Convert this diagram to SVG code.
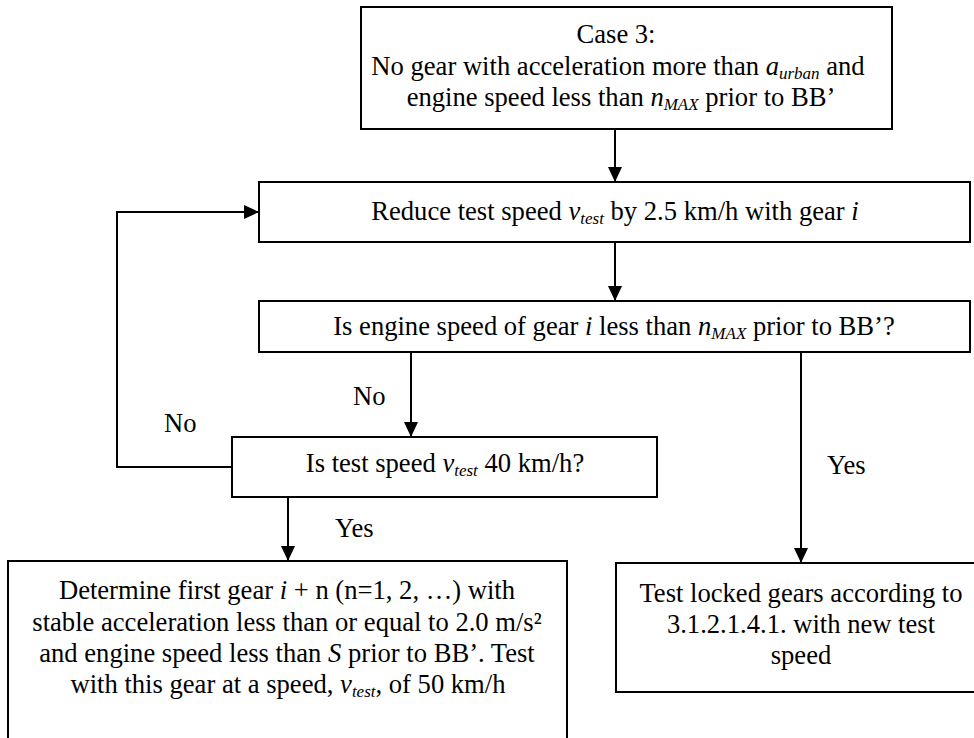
<svg xmlns="http://www.w3.org/2000/svg" width="974" height="738" viewBox="0 0 974 738">
<defs>
<style>
.box{fill:#fff;stroke:#000;stroke-width:2}
.t{font-family:"Liberation Serif","Times New Roman",serif;font-size:26.6px;fill:#000;text-anchor:middle}
.l{font-family:"Liberation Serif","Times New Roman",serif;font-size:26.6px;fill:#000}
.i{font-style:italic}
.s{font-style:italic;font-size:17px}
.c{fill:none;stroke:#000;stroke-width:2}
</style>
<marker id="ah" markerUnits="userSpaceOnUse" markerWidth="15" markerHeight="14" refX="15" refY="7" orient="auto">
<path d="M0,0 L15,7 L0,14 Z" fill="#000"/>
</marker>
</defs>
<rect width="974" height="738" fill="#fff"/>
<g id="connectors">
<line class="c" x1="615" y1="129" x2="615" y2="182" marker-end="url(#ah)"/>
<line class="c" x1="615" y1="242" x2="615" y2="301" marker-end="url(#ah)"/>
<line class="c" x1="411" y1="352" x2="411" y2="437" marker-end="url(#ah)"/>
<line class="c" x1="801" y1="352" x2="801" y2="563" marker-end="url(#ah)"/>
<line class="c" x1="288" y1="497" x2="288" y2="561" marker-end="url(#ah)"/>
<polyline class="c" points="232,467 117,467 117,212 259,212" marker-end="url(#ah)"/>
<text class="l" x="353" y="405">No</text>
<text class="l" x="164" y="432">No</text>
<text class="l" x="335" y="537">Yes</text>
<text class="l" x="827" y="474">Yes</text>
</g>
<g id="case3">
<rect class="box" x="361" y="7" width="531" height="122"/>
<text class="t" x="616" y="43">Case 3:</text>
<text class="t" x="618" y="75">No gear with acceleration more than <tspan class="i">a</tspan><tspan class="s" dy="4">urban</tspan><tspan dy="-4"> and</tspan></text>
<text class="t" x="621" y="106">engine speed less than <tspan class="i">n</tspan><tspan class="s" dy="4">MAX</tspan><tspan dy="-4"> prior to BB’</tspan></text>
</g>
<g id="reduce">
<rect class="box" x="259" y="182" width="711" height="60"/>
<text class="t" x="615" y="220">Reduce test speed <tspan class="i">v</tspan><tspan class="s" dy="4">test</tspan><tspan dy="-4"> by 2.5 km/h with gear </tspan><tspan class="i">i</tspan></text>
</g>
<g id="engine-check">
<rect class="box" x="259" y="301" width="711" height="51"/>
<text class="t" x="614" y="335">Is engine speed of gear <tspan class="i">i</tspan> less than <tspan class="i">n</tspan><tspan class="s" dy="4">MAX</tspan><tspan dy="-4"> prior to BB’?</tspan></text>
</g>
<g id="speed-check">
<rect class="box" x="232" y="437" width="425" height="60"/>
<text class="t" x="445" y="472">Is test speed <tspan class="i">v</tspan><tspan class="s" dy="4">test</tspan><tspan dy="-4"> 40 km/h?</tspan></text>
</g>
<g id="locked">
<rect class="box" x="616" y="563" width="370" height="129"/>
<text class="t" x="801" y="602">Test locked gears according to</text>
<text class="t" x="801" y="633">3.1.2.1.4.1. with new test</text>
<text class="t" x="801" y="664">speed</text>
</g>
<g id="determine">
<rect class="box" x="8" y="561" width="559" height="200"/>
<text class="t" x="287" y="599">Determine first gear <tspan class="i">i</tspan> + n (n=1, 2, …) with</text>
<text class="t" x="287" y="631">stable acceleration less than or equal to 2.0 m/s²</text>
<text class="t" x="287" y="662">and engine speed less than <tspan class="i">S</tspan> prior to BB’. Test</text>
<text class="t" x="288" y="693">with this gear at a speed, <tspan class="i">v</tspan><tspan class="s" dy="4">test</tspan><tspan dy="-4">, of 50 km/h</tspan></text>
</g>
</svg>
